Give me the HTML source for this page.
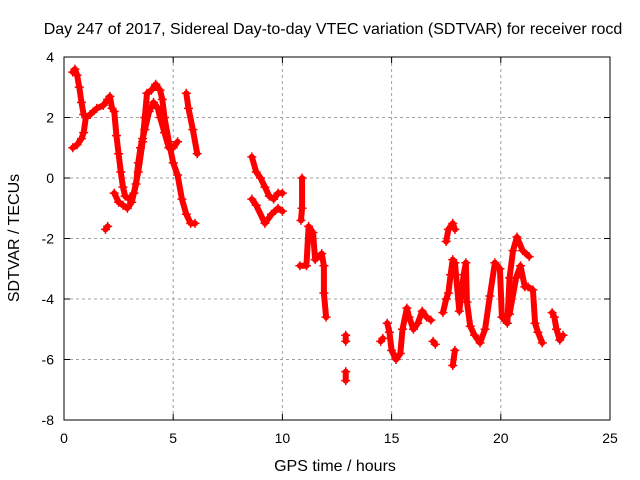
<!DOCTYPE html>
<html><head><meta charset="utf-8"><style>
body{margin:0;background:#fff}
svg{display:block;font-family:"Liberation Sans",sans-serif}
</style></head><body>
<svg id="chart" width="640" height="480">
<text x="333" y="34" font-size="16" text-anchor="middle">Day 247 of 2017, Sidereal Day-to-day VTEC variation (SDTVAR) for receiver rocd</text>
<text x="335" y="471" font-size="16" text-anchor="middle">GPS time / hours</text>
<text transform="translate(19,238) rotate(-90)" font-size="16" text-anchor="middle">SDTVAR / TECUs</text>
<g id="grid"></g>
<g id="ticks"></g>
<g id="marks"></g>
<rect x="64" y="57" width="546" height="363" fill="none" stroke="#000" stroke-width="1"/>
</svg>
<script>
const xTicks=[0,5,10,15,20,25];
const yTicks=[4,2,0,-2,-4,-6,-8];
const trackA=[[0.4,3.5],[0.5,3.6],[0.6,3.4],[0.7,3.0],[0.8,2.5],[0.9,2.1],[1.0,2.0],[1.2,2.1],[1.5,2.3],[1.8,2.4],[2.0,2.6],[2.1,2.7],[2.2,2.3]];
const trackB=[[0.4,1.0],[0.6,1.1],[0.8,1.3],[0.9,1.5],[1.0,2.0]];
const trackC=[[2.3,2.2],[2.4,1.4],[2.5,0.8],[2.6,0.2],[2.7,-0.3],[2.8,-0.6],[3.0,-0.7],[3.2,-0.5],[3.4,0.2],[3.6,1.2],[3.7,2.0],[3.8,2.8],[4.0,2.9],[4.2,3.1],[4.4,2.9],[4.5,2.6],[4.6,2.0],[4.8,1.2],[5.0,0.5],[5.2,0.1],[5.4,-0.7],[5.6,-1.2],[5.8,-1.5],[6.0,-1.5]];
const trackD=[[2.3,-0.5],[2.5,-0.8],[2.7,-0.9],[2.9,-1.0],[3.1,-0.8],[3.3,-0.2],[3.4,0.5],[3.5,1.0],[3.6,1.3],[3.7,1.6],[3.9,2.2],[4.1,2.5],[4.3,2.3],[4.4,2.0],[4.6,1.5],[4.8,1.0],[5.0,1.0],[5.2,1.2]];
const trackE=[[5.6,2.8],[5.7,2.3],[5.9,1.6],[6.1,0.8]];
const trackF=[[1.9,-1.7],[2.0,-1.6]];
const trackG=[[8.6,0.7],[8.8,0.2],[9.0,0.0],[9.2,-0.3],[9.4,-0.6],[9.6,-0.7],[9.8,-0.5],[10.0,-0.5]];
const trackH=[[8.6,-0.7],[8.8,-0.9],[9.2,-1.5],[9.5,-1.2],[9.8,-1.0],[10.0,-1.1]];
const trackI=[[10.9,0.0],[10.9,-1.0],[10.85,-1.4]];
const trackJ=[[10.8,-2.9],[11.1,-2.9],[11.2,-1.6],[11.4,-1.8],[11.5,-2.7],[11.8,-2.5],[11.9,-2.9],[11.9,-3.8],[12.0,-4.6]];
const trackK=[[12.9,-5.2],[12.9,-5.4]];
const trackL=[[12.9,-6.4],[12.9,-6.7]];
const trackM=[[14.5,-5.4],[14.6,-5.3]];
const trackN=[[14.8,-4.8],[14.9,-5.1],[15.0,-5.7],[15.2,-6.0],[15.4,-5.8],[15.5,-5.0],[15.7,-4.3],[15.8,-4.6],[16.0,-5.0],[16.2,-4.8],[16.4,-4.4],[16.6,-4.6],[16.8,-4.7]];
const trackO=[[16.9,-5.4],[17.0,-5.5]];
const trackP=[[17.8,-6.2],[17.9,-5.7]];
const trackQ=[[17.35,-4.45],[17.5,-4.0],[17.6,-3.8],[17.7,-3.2],[17.8,-2.7],[17.9,-2.8],[18.1,-4.4],[18.2,-3.8],[18.3,-3.2],[18.4,-2.8],[18.45,-4.1],[18.6,-4.9],[18.8,-5.2],[19.05,-5.45],[19.28,-5.0],[19.5,-3.9],[19.73,-2.8],[19.96,-3.0],[20.05,-4.6],[20.3,-4.8],[20.4,-3.3],[20.56,-2.4],[20.74,-1.95],[21.0,-2.4],[21.3,-2.6]];
const trackR=[[17.5,-2.1],[17.6,-1.7],[17.8,-1.5],[17.9,-1.7]];
const trackS=[[20.4,-4.5],[20.7,-3.3],[20.9,-2.9],[21.1,-3.6],[21.25,-3.6],[21.47,-3.7],[21.57,-4.8],[21.7,-5.1],[21.9,-5.45]];
const trackT=[[22.35,-4.45],[22.45,-4.6],[22.55,-5.0],[22.7,-5.36],[22.85,-5.2]];
const series=[trackA,trackB,trackC,trackD,trackE,trackF,trackG,trackH,trackI,trackJ,trackK,trackL,trackM,trackN,trackO,trackP,trackQ,trackR,trackS,trackT];

const X0=64,X1=610,Y0=420,Y1=57;
function sx(t){return X0+(t-0)/(25-0)*(X1-X0);}
function sy(v){return Y0-(v-(-8))/(4-(-8))*(Y0-Y1);}
const NS='http://www.w3.org/2000/svg';
function mk(tag,attrs,parent){const e=document.createElementNS(NS,tag);for(const k in attrs)e.setAttribute(k,attrs[k]);parent.appendChild(e);return e;}
const grid=document.getElementById('grid'),ticks=document.getElementById('ticks'),marks=document.getElementById('marks');
xTicks.forEach(t=>{const x=sx(t);
 if(t>0&&t<25){const g=mk('line',{x1:x,x2:x,y1:Y1,y2:Y0,stroke:'#a0a0a0','stroke-dasharray':'3,3'},grid);}
 const a=mk('line',{x1:x,x2:x,y1:Y0,y2:Y0-6,stroke:'#000'},ticks);
 const b=mk('line',{x1:x,x2:x,y1:Y1,y2:Y1+6,stroke:'#000'},ticks);
 const l=mk('text',{x:x,y:Y0+23,'font-size':'14','text-anchor':'middle'},ticks);l.textContent=t;});
yTicks.forEach(v=>{const y=sy(v);
 if(v<4&&v>-8){const g=mk('line',{x1:X0,x2:X1,y1:y,y2:y,stroke:'#a0a0a0','stroke-dasharray':'3,3'},grid);}
 const a=mk('line',{x1:X0,x2:X0+6,y1:y,y2:y,stroke:'#000'},ticks);
 const b=mk('line',{x1:X1,x2:X1-6,y1:y,y2:y,stroke:'#000'},ticks);
 const l=mk('text',{x:X0-10,y:y+5,'font-size':'14','text-anchor':'end'},ticks);l.textContent=v;});
series.forEach(s=>{
 const pl=mk('polyline',{points:s.map(p=>sx(p[0])+','+sy(p[1])).join(' '),fill:'none',stroke:'#f00','stroke-width':'6','stroke-linejoin':'round','stroke-linecap':'round'},marks);
 
 
 s.forEach(p=>{const x=sx(p[0]),y=sy(p[1]);
  const m=mk('path',{d:`M${x-4.5},${y}H${x+4.5}M${x},${y-4.5}V${y+4.5}`,stroke:'#f00','stroke-width':'1.5'},marks);
  
  });
});
</script>
</body></html>
